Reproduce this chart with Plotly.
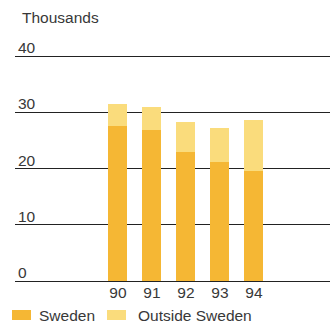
import plotly.graph_objects as go

years = ["90", "91", "92", "93", "94"]
sweden = [27.6, 26.8, 23.0, 21.2, 19.6]
outside = [3.9, 4.1, 5.3, 6.1, 9.1]
y_ticks = [0, 10, 20, 30, 40]

C_SWE = "#F5B734"
C_OUT = "#FADC7C"
TXT = "#383838"
FONT = "Liberation Sans, Arial, sans-serif"
FS = 15.5
W, H = 330, 324
ML, MR, MT, MB = 15, 0, 54, 43
Y_TOP = 40.4

xpos = list(range(len(years)))

fig = go.Figure()
fig.add_bar(x=xpos, y=sweden, marker=dict(color=C_SWE, line=dict(width=0)),
            name="Sweden", width=0.56)
fig.add_bar(x=xpos, y=outside, marker=dict(color=C_OUT, line=dict(width=0)),
            name="Outside Sweden", width=0.56)

fig.update_layout(
    barmode="stack",
    width=W, height=H,
    margin=dict(l=ML, r=MR, t=MT, b=MB),
    paper_bgcolor="white", plot_bgcolor="white",
    showlegend=False,
    font=dict(family=FONT, size=FS, color=TXT),
    xaxis=dict(range=[-3.03, 6.24], tickvals=xpos, ticktext=years,
               showgrid=False, zeroline=False, showline=False,
               ticks="", tickfont=dict(size=FS, color=TXT)),
    yaxis=dict(range=[0, Y_TOP], tickvals=y_ticks, showticklabels=False,
               showgrid=True, gridcolor="#222222", gridwidth=1,
               zeroline=True, zerolinecolor="#222222", zerolinewidth=1,
               showline=False, ticks=""),
)


def px_to_paper(px, py):
    return (px - ML) / (W - ML - MR), (H - MB - py) / (H - MT - MB)


# value labels sitting on top of each gridline, at the left edge
for v in y_ticks:
    fig.add_annotation(x=px_to_paper(16, 0)[0], xref="paper", y=v, yref="y",
                       text=str(v), showarrow=False, xanchor="left",
                       yanchor="bottom", yshift=-2,
                       font=dict(size=FS, color=TXT))

tx, ty = px_to_paper(20, 17)
fig.add_annotation(x=tx, xref="paper", y=ty, yref="paper",
                   text="Thousands", showarrow=False, xanchor="left",
                   yanchor="middle", font=dict(size=FS, color=TXT))

# legend: swatches and labels along the bottom
legend = [("Sweden", C_SWE, 12, 37), ("Outside Sweden", C_OUT, 107, 136)]
for label, col, sx, lx in legend:
    x0, y0 = px_to_paper(sx, 320)
    x1, y1 = px_to_paper(sx + 19, 310)
    fig.add_shape(type="rect", xref="paper", yref="paper",
                  x0=x0, x1=x1, y0=y0, y1=y1,
                  fillcolor=col, line=dict(width=0))
    ax, ay = px_to_paper(lx, 315)
    fig.add_annotation(x=ax, y=ay, xref="paper", yref="paper", text=label,
                       showarrow=False, xanchor="left", yanchor="middle",
                       font=dict(size=FS, color=TXT))

fig.write_html("out.html")
